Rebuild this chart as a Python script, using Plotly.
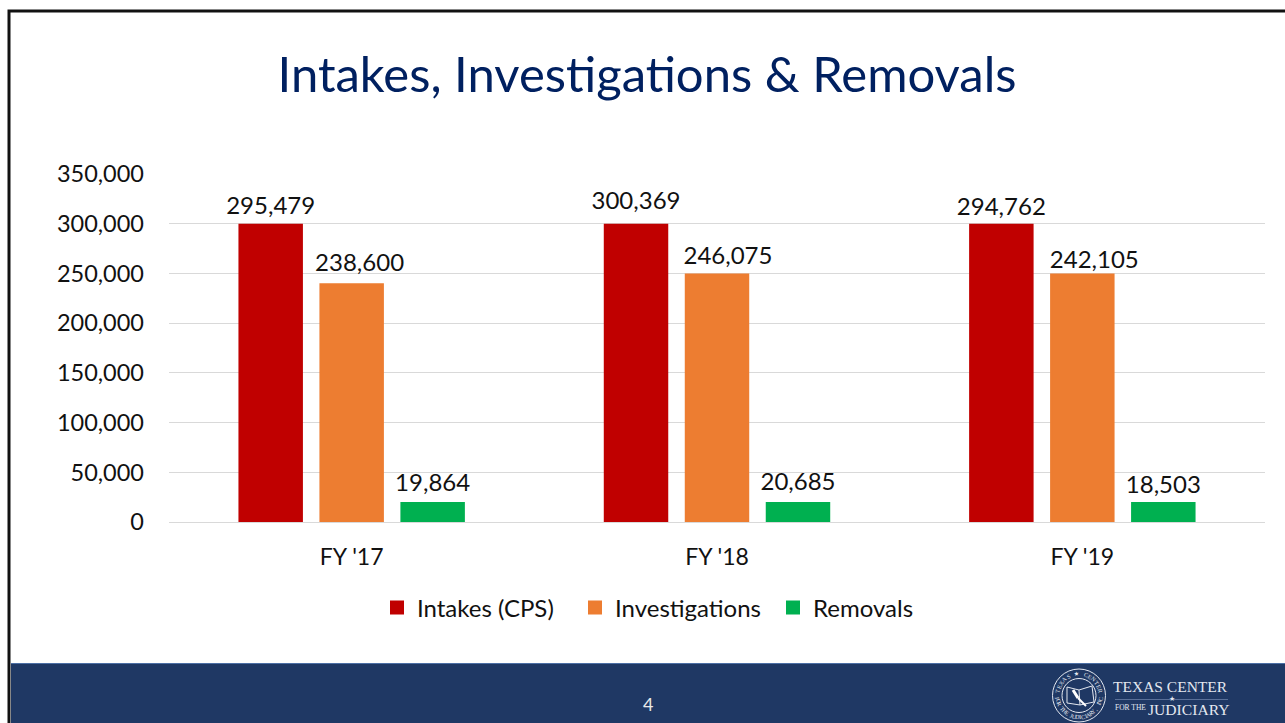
import math
import plotly.graph_objects as go

W, H = 1285, 723
L, R, T, B = 169, 1265, 174, 522

categories = ["FY '17", "FY '18", "FY '19"]
# Drawn bar heights
intakes_drawn = [299000, 299000, 299000]
investigations_drawn = [239000, 249000, 249000]
removals_drawn = [19000, 19000, 19000]
# Printed labels, which sit according to these true values
intakes_label = [295479, 300369, 294762]
investigations_label = [238600, 246075, 242105]
removals_label = [19864, 20685, 18503]

names = ["Intakes (CPS)", "Investigations", "Removals"]
colors = ["#C00000", "#ED7D31", "#00B050"]
y_ticks = [0, 50000, 100000, 150000, 200000, 250000, 300000, 350000]
title_text = "Intakes, Investigations & Removals"
page_number = "4"

FONT = "Lato"
INK = "#111111"

# Label carrier bars share the drawn bars' slots; the middle labels sit a little right in the reference
LABEL_W = 0.171
label_offsets = [-0.3072, [-0.0637, -0.0555, -0.0528], 0.1362]


def px(x):
    return (x - L) / (R - L)


def py(y):
    return (B - y) / (B - T)


fig = go.Figure()
for name, vals, col in zip(names, [intakes_drawn, investigations_drawn, removals_drawn], colors):
    fig.add_bar(x=categories, y=vals, name=name, marker=dict(color=col, line=dict(color=col, width=2)),
                hoverinfo="skip")

for name, vals, off in zip(names, [intakes_label, investigations_label, removals_label], label_offsets):
    fig.add_bar(
        x=categories, y=vals, xaxis="x2", yaxis="y2", showlegend=False, hoverinfo="skip",
        offset=off, width=LABEL_W,
        marker=dict(color="rgba(0,0,0,0)", line=dict(width=0)),
        text=[f"{v:,}" for v in vals], textposition="outside", cliponaxis=False, constraintext="none",
        textfont=dict(family=FONT, size=24, color=INK), name=name + " label",
    )

shapes = [
    dict(type="rect", xref="paper", yref="paper", x0=px(9), x1=px(1290), y0=py(11), y1=py(730),
         line=dict(color="#111111", width=3), fillcolor="rgba(0,0,0,0)", layer="below"),
    dict(type="rect", xref="paper", yref="paper", x0=px(11), x1=px(1290), y0=py(664), y1=py(730),
         line=dict(width=0), fillcolor="#1F3864", layer="above"),
    dict(type="line", xref="paper", yref="paper", x0=px(11), x1=px(1290), y0=py(663.5), y1=py(663.5),
         line=dict(color="#4C6FA5", width=1), layer="above"),
]

LOGO = "#E4E8F0"
cx, cy = 1079, 695.5


def circle(r, w):
    return dict(type="circle", xref="paper", yref="paper", x0=px(cx - r), x1=px(cx + r),
                y0=py(cy + r), y1=py(cy - r), line=dict(color=LOGO, width=w),
                fillcolor="rgba(0,0,0,0)", layer="above")


def path(points, color=LOGO, w=1, closed=False):
    d = "M " + " L ".join(f"{px(a):.5f},{py(b):.5f}" for a, b in points) + (" Z" if closed else "")
    return dict(type="path", xref="paper", yref="paper", path=d, line=dict(color=color, width=w), layer="above")


shapes += [
    circle(26.5, 1),
    circle(17, 1),
    path([(1067, 687), (1079, 690), (1092, 686), (1094, 702), (1080, 705), (1067, 703)], w=1, closed=True),
    path([(1079, 690), (1080, 705)], w=1),
    path([(1073, 690), (1078, 698)], color="#FFFFFF", w=3),
    path([(1078, 698), (1086, 706)], color="#FFFFFF", w=2),
    path([(1115, 699.5), (1228, 699.5)], color="#5A7099", w=1),
]

annotations = [
    dict(text=page_number, x=px(648), y=py(704), font=dict(family=FONT, size=18, color="#E8E8E8")),
    dict(text="TEXAS CENTER", x=px(1170), y=py(686.5), font=dict(family="Liberation Serif", size=15.5, color=LOGO)),
    dict(text="★", x=px(1172), y=py(699), font=dict(family="DejaVu Sans", size=7, color=LOGO)),
    dict(text="FOR THE", x=px(1130), y=py(707), font=dict(family="Liberation Serif", size=7.5, color=LOGO)),
    dict(text="JUDICIARY", x=px(1188), y=py(709), font=dict(family="Liberation Serif", size=15.6, color=LOGO)),
]

# seal ring lettering
ring_top = "TEXAS ★ CENTER"
ring_bot = "FOR THE JUDICIARY, INC"
RING = 21.7
for i, ch in enumerate(ring_top):
    a = -78 + i * 156 / (len(ring_top) - 1)
    annotations.append(dict(text=ch, x=px(cx + RING * math.sin(math.radians(a))),
                            y=py(cy - RING * math.cos(math.radians(a))), textangle=a,
                            font=dict(family="Liberation Serif", size=6, color=LOGO)))
for i, ch in enumerate(ring_bot):
    a = 262 - i * 164 / (len(ring_bot) - 1)
    annotations.append(dict(text=ch, x=px(cx + RING * math.sin(math.radians(a))),
                            y=py(cy - RING * math.cos(math.radians(a))), textangle=a - 180,
                            font=dict(family="Liberation Serif", size=6, color=LOGO)))
for an in annotations:
    an.update(xref="paper", yref="paper", showarrow=False, xanchor="center", yanchor="middle")

fig.update_layout(
    width=W, height=H, autosize=False,
    margin=dict(l=L, r=W - R, t=T, b=H - B, pad=0),
    paper_bgcolor="#FFFFFF", plot_bgcolor="#FFFFFF",
    font=dict(family=FONT, size=24, color=INK),
    title=dict(text=title_text, x=647 / W, y=1 - 75 / H, xref="container", yref="container",
               xanchor="center", yanchor="middle", font=dict(family=FONT, size=49, color="#002060")),
    barmode="group", bargap=0.335, bargroupgap=0.2286,
    xaxis=dict(domain=[0, 1], categoryorder="array", categoryarray=categories, showgrid=False,
               showline=True, linecolor="#D9D9D9", linewidth=1, ticks="", ticklabelstandoff=14,
               tickfont=dict(family=FONT, size=23, color=INK), zeroline=False),
    yaxis=dict(range=[0, 350000], tickvals=y_ticks, tickformat=",", showgrid=True, gridcolor="#D9D9D9",
               gridwidth=1, ticks="", ticklabelstandoff=24, zeroline=False, showline=False,
               tickfont=dict(family=FONT, size=23.5, color=INK)),
    xaxis2=dict(overlaying="x", categoryorder="array", categoryarray=categories, visible=False),
    yaxis2=dict(overlaying="y", range=[-2870, 343055], visible=False),
    legend=dict(orientation="h", x=px(377), xanchor="left", y=py(608), yanchor="middle",
                entrywidth=153, entrywidthmode="pixels",
                font=dict(family=FONT, size=24, color=INK), bgcolor="rgba(0,0,0,0)"),
    shapes=shapes, annotations=annotations, showlegend=True,
)

fig.write_html("out.html", config={"displayModeBar": False}, post_script="document.body.style.margin='0';")
